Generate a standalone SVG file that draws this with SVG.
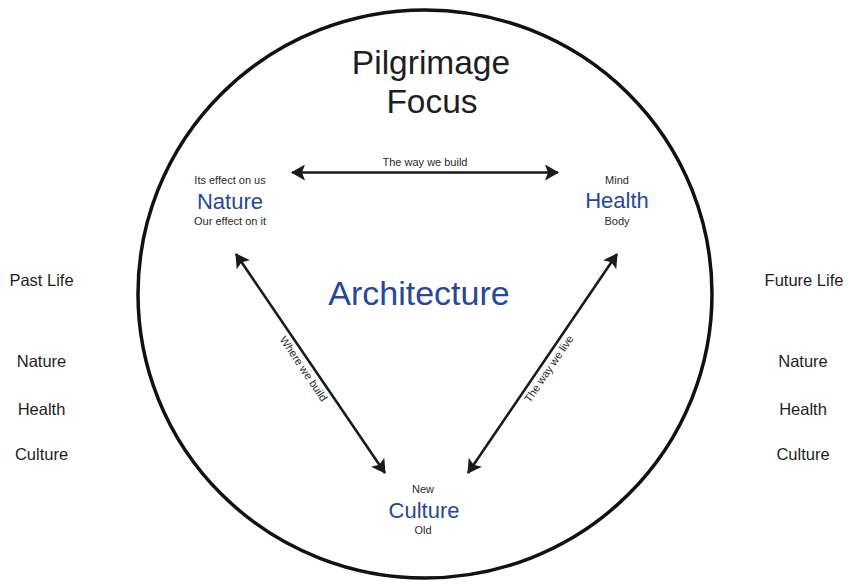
<svg xmlns="http://www.w3.org/2000/svg" width="851" height="586" viewBox="0 0 851 586">
<style>
text { font-family: "Liberation Sans", Arial, sans-serif; fill: #1e1e1e; text-anchor: middle; }
.title { font-size: 33.5px; }
.big { font-size: 34px; fill: #27489a; }
.node { font-size: 22px; fill: #27489a; }
.small { font-size: 11px; fill: #2a2a2a; }
.side { font-size: 16.5px; }
.conn { stroke: #1a1a1a; stroke-width: 2.6; fill: none; marker-start: url(#ah); marker-end: url(#ah); }
</style>
<defs>
<marker id="ah" markerUnits="userSpaceOnUse" viewBox="0 0 14 16" refX="13" refY="8" markerWidth="14" markerHeight="16" orient="auto-start-reverse">
<path d="M0,0 L14,8 L0,16 L3,8 Z" fill="#1a1a1a"/>
</marker>
</defs>
<rect width="851" height="586" fill="#ffffff"/>
<g id="circle">
<ellipse cx="425" cy="294" rx="287" ry="284" fill="none" stroke="#111" stroke-width="3.5"/>
</g>
<g id="title">
<text class="title" x="431" y="74">Pilgrimage</text>
<text class="title" x="432" y="113">Focus</text>
</g>
<g id="architecture">
<text class="big" x="419" y="305">Architecture</text>
</g>
<g id="nature">
<text class="small" x="230" y="184">Its effect on us</text>
<text class="node" x="230" y="209">Nature</text>
<text class="small" x="230" y="225">Our effect on it</text>
</g>
<g id="health">
<text class="small" x="617" y="184">Mind</text>
<text class="node" x="617" y="208">Health</text>
<text class="small" x="617" y="225">Body</text>
</g>
<g id="culture">
<text class="small" x="423" y="493">New</text>
<text class="node" x="424" y="518">Culture</text>
<text class="small" x="423" y="534">Old</text>
</g>
<g id="past">
<text class="side" x="41.5" y="286">Past Life</text>
<text class="side" x="41.5" y="367">Nature</text>
<text class="side" x="41.5" y="415">Health</text>
<text class="side" x="41.5" y="460">Culture</text>
</g>
<g id="future">
<text class="side" x="804" y="286">Future Life</text>
<text class="side" x="803" y="367">Nature</text>
<text class="side" x="803" y="415">Health</text>
<text class="side" x="803" y="460">Culture</text>
</g>
<g id="connectors">
<line class="conn" x1="292" y1="172.5" x2="558" y2="172.5"/>
<text class="small" x="425" y="166">The way we build</text>
<line class="conn" x1="236" y1="254" x2="385" y2="473"/>
<text class="small" transform="translate(310.4,364.1) rotate(55.9)" x="0" y="12">Where we build</text>
<line class="conn" x1="617" y1="254" x2="468" y2="473"/>
<text class="small" transform="translate(542,364.2) rotate(-55.8)" x="0" y="12">The way we live</text>
</g>
</svg>
